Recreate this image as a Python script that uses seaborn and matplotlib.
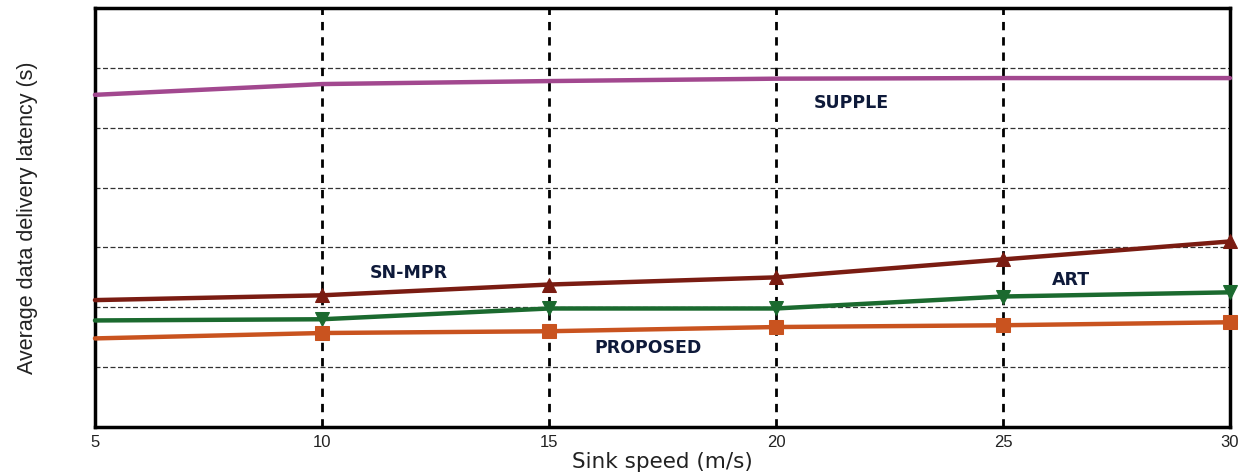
import matplotlib
matplotlib.use("Agg")
import matplotlib.pyplot as plt
import seaborn as sns
import pandas as pd

# Sink speed (m/s)
speed = [5, 10, 15, 20, 25, 30]

# Average data delivery latency per protocol
supple = [5.55, 5.73, 5.78, 5.82, 5.83, 5.83]
sn_mpr = [2.12, 2.20, 2.38, 2.50, 2.80, 3.10]
art = [1.78, 1.80, 1.98, 1.98, 2.18, 2.25]
proposed = [1.48, 1.57, 1.60, 1.67, 1.70, 1.75]

series_names = ["SUPPLE", "SN-MPR", "ART", "PROPOSED"]
series_values = [supple, sn_mpr, art, proposed]
colors = {"SUPPLE": "#A2488F", "SN-MPR": "#7A1C12", "ART": "#1B6A2F", "PROPOSED": "#C9531F"}
markers = {"SUPPLE": None, "SN-MPR": "^", "ART": "v", "PROPOSED": "s"}

# Curve labels and their anchor positions (data coordinates)
label_text = ["SUPPLE", "SN-MPR", "ART", "PROPOSED"]
label_x = [21.67, 11.92, 26.5, 17.18]
label_y = [5.42, 2.57, 2.45, 1.32]

sns.set_theme(style="white")
plt.rcParams["font.family"] = ["Liberation Sans", "DejaVu Sans"]

fig = plt.figure(figsize=(12.43, 4.74), dpi=100)
ax = fig.add_axes([0.0764, 0.0992, 0.9131, 0.8838])

# Horizontal reference lines
for gy in range(1, 7):
    ax.axhline(gy, color="#333333", lw=0.9, ls=(0, (4, 2)), zorder=1)
# Vertical guides at each simulated speed
for gx in speed[1:-1]:
    ax.axvline(gx, color="black", lw=2.0, ls=(0, (3, 2.5)), zorder=2)

for name, vals in zip(series_names, series_values):
    df = pd.DataFrame({"speed": speed, "latency": vals})
    kw = {}
    if markers[name]:
        kw = dict(marker=markers[name], markersize=10, markevery=list(range(1, len(speed))),
                  markeredgecolor=colors[name], markerfacecolor=colors[name])
    sns.lineplot(data=df, x="speed", y="latency", color=colors[name], lw=3.2,
                 ax=ax, zorder=3, clip_on=False, **kw)

for t, x, y in zip(label_text, label_x, label_y):
    ax.text(x, y, t, fontsize=12.5, fontweight="bold", color="#0E1A3A",
            ha="center", va="center", family=["DejaVu Sans"])

ax.set_xlim(5, 30)
ax.set_ylim(0, 7)
ax.set_xticks([5, 10, 15, 20, 25, 30])
ax.set_yticks([])
ax.tick_params(axis="x", length=0, labelsize=12, pad=6, colors="#222222")
for s in ax.spines.values():
    s.set_linewidth(2.5)
    s.set_color("black")

ax.set_xlabel("Sink speed (m/s)", fontsize=15.5, labelpad=1, color="#222222",
              family=["DejaVu Sans"])
ax.set_ylabel("Average data delivery latency (s)", fontsize=15.5, color="#222222")
ax.yaxis.set_label_coords(-0.050, 0.5)

fig.savefig("out.png", dpi=100)
